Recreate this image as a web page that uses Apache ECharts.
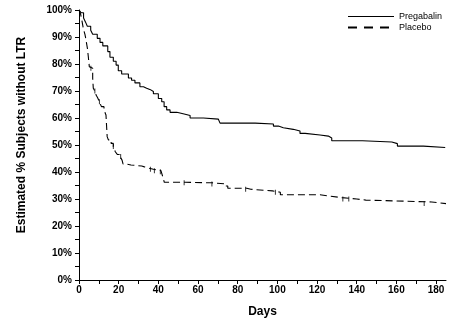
<!DOCTYPE html>
<html>
<head>
<meta charset="utf-8">
<script src="https://cdn.jsdelivr.net/npm/echarts@6/dist/echarts.min.js"></script>
<style>html,body{margin:0;padding:0;background:#fff}#c{width:468px;height:323px}</style>
</head>
<body>
<div id="c"></div>
<script>
// Kaplan-Meier step data: [day of event, estimated % after event]
var pregabalin = [
  [0,100],[1,99],[2.3,97],[3.3,95.5],[4.2,94],[5.9,92.5],[6.9,91],[9.2,89.5],[10.6,88],[12,86.7],
  [14.5,84.6],[15.6,82.5],[17.3,81],[18.7,79.6],[19.8,77.5],[21.5,76.3],[24.9,74.8],[26.5,74],[28.2,73],
  [30.7,71.6],[32.5,71],[34.1,70.5],[36,69.8],[37.5,69],[40,67.2],[41.7,66],[42.9,64.2],[44.2,63],
  [45.9,62.1],[49.3,61.5],[53,60.9],[56,60],[62.7,59.6],[70.2,58.9],[71.1,58.1],[88.8,57.8],[98,57],
  [100.5,56.4],[103,55.8],[108,55.2],[111.4,54.3],[114,53.7],[121.5,53.3],[125.7,52.6],[127.4,51.6],
  [142.9,51.1],[157.7,50.5],[160.5,49.6],[173.6,49.1],[184.6,49.1]
];
var placebo = [
  [0,100],[0.8,98.5],[1.5,96],[2.2,93],[3,91],[3.5,89],[4.2,86],[4.7,82.7],[5.2,79],[6,78.4],
  [6.9,74.7],[7.2,71],[8,70],[8.6,68.5],[9.4,67.5],[10.3,66],[11.3,64.2],[12.6,63],[13.6,61.1],
  [14.2,53.1],[14.8,51.9],[16.2,50.6],[17.3,49.4],[18.3,47.5],[19.3,46.5],[20.7,45.7],[21.7,44.4],
  [22.2,43],[23.7,42.6],[26.2,42.2],[31.6,41.9],[33,41.4],[35.4,41],[37.5,40.5],[41.3,40.1],
  [42.2,38.3],[43,36.2],[53.5,36],[67,35.6],[73.6,34.8],[75,34],[84.6,33.6],[86.6,33],[97.5,32.5],
  [101.5,31.6],[121.5,31.1],[125.7,30.5],[132.5,30],[140,29.6],[144.6,28.9],[177.8,28.3],[185,28.3]
];
// censored observations (placebo), [day, %]
var placeboCensor = [
  [6,78.4],[8,70],[10.3,66],[17.3,49.4],[21,45.7],[36,41],[38,40.5],[41,40.1],[53,36],[67,35.6],
  [84,33.6],[99,32.5],[133,30],[136,30],[174,28.3]
];
var seriesNames = ['Pregabalin','Placebo'];
var xTickValues = [0,10,20,30,40,50,60,70,80,90,100,110,120,130,140,150,160,170,180];
var xLabelValues = [0,20,40,60,80,100,120,140,160,180];
var yTitle = 'Estimated % Subjects without LTR';
var xTitle = 'Days';

var chart = echarts.init(document.getElementById('c'), null, {renderer:'canvas'});
var labelFont = {color:'#000', fontFamily:'Liberation Sans, Arial', fontWeight:'bold', fontSize:10};
var hidden = {color:'rgba(0,0,0,0)', borderWidth:0, opacity:0};
chart.setOption({
  animation:false,
  backgroundColor:'#fff',
  grid:{left:79, right:22, top:10, bottom:43, containLabel:false},
  legend:{
    orient:'vertical', left:347, top:12, padding:0, itemGap:2,
    itemWidth:46, itemHeight:10,
    textStyle:{color:'#000', fontFamily:'Liberation Sans, Arial', fontSize:9},
    itemStyle:hidden,
    data:[
      {name:seriesNames[0], itemStyle:hidden, lineStyle:{color:'#000', width:1, type:'solid'}},
      {name:seriesNames[1], itemStyle:hidden, lineStyle:{color:'#000', width:2, type:[9,7]}}
    ]
  },
  xAxis:{
    type:'value', min:0, max:185,
    name:xTitle, nameLocation:'middle', nameGap:26,
    nameTextStyle:{color:'#000', fontFamily:'Liberation Sans, Arial', fontWeight:'bold', fontSize:12},
    axisLine:{show:true, lineStyle:{color:'#000', width:1}},
    axisTick:{show:true, length:4, lineStyle:{color:'#000'}, customValues:xTickValues},
    axisLabel:Object.assign({margin:5, customValues:xLabelValues}, labelFont),
    splitLine:{show:false}
  },
  yAxis:{
    type:'value', min:0, max:100, interval:10,
    axisLine:{show:true, lineStyle:{color:'#000', width:1}},
    axisTick:{show:true, length:4, lineStyle:{color:'#000'}},
    minorTick:{show:true, splitNumber:2, length:4, lineStyle:{color:'#000'}},
    axisLabel:Object.assign({margin:7, formatter:'{value}%'}, labelFont),
    splitLine:{show:false}
  },
  graphic:[{
    type:'text', x:22, y:135, rotation:Math.PI/2,
    style:{text:yTitle, fill:'#000', font:'bold 12px "Liberation Sans", Arial', align:'center', verticalAlign:'middle'}
  }],
  series:[
    {name:seriesNames[0], type:'line', step:'end', data:pregabalin, symbol:'none', showSymbol:false,
     lineStyle:{color:'#000', width:1.1, type:'solid'}, itemStyle:{color:'#000'}},
    {name:seriesNames[1], type:'line', step:'end', data:placebo, symbol:'none', showSymbol:false,
     lineStyle:{color:'#000', width:1.1, type:[7,4]}, itemStyle:{color:'#000'}},
    {name:'censor', type:'scatter', data:placeboCensor, symbol:'rect', symbolSize:[1,5],
     itemStyle:{color:'#000'}, silent:true}
  ]
});
</script>
</body>
</html>
